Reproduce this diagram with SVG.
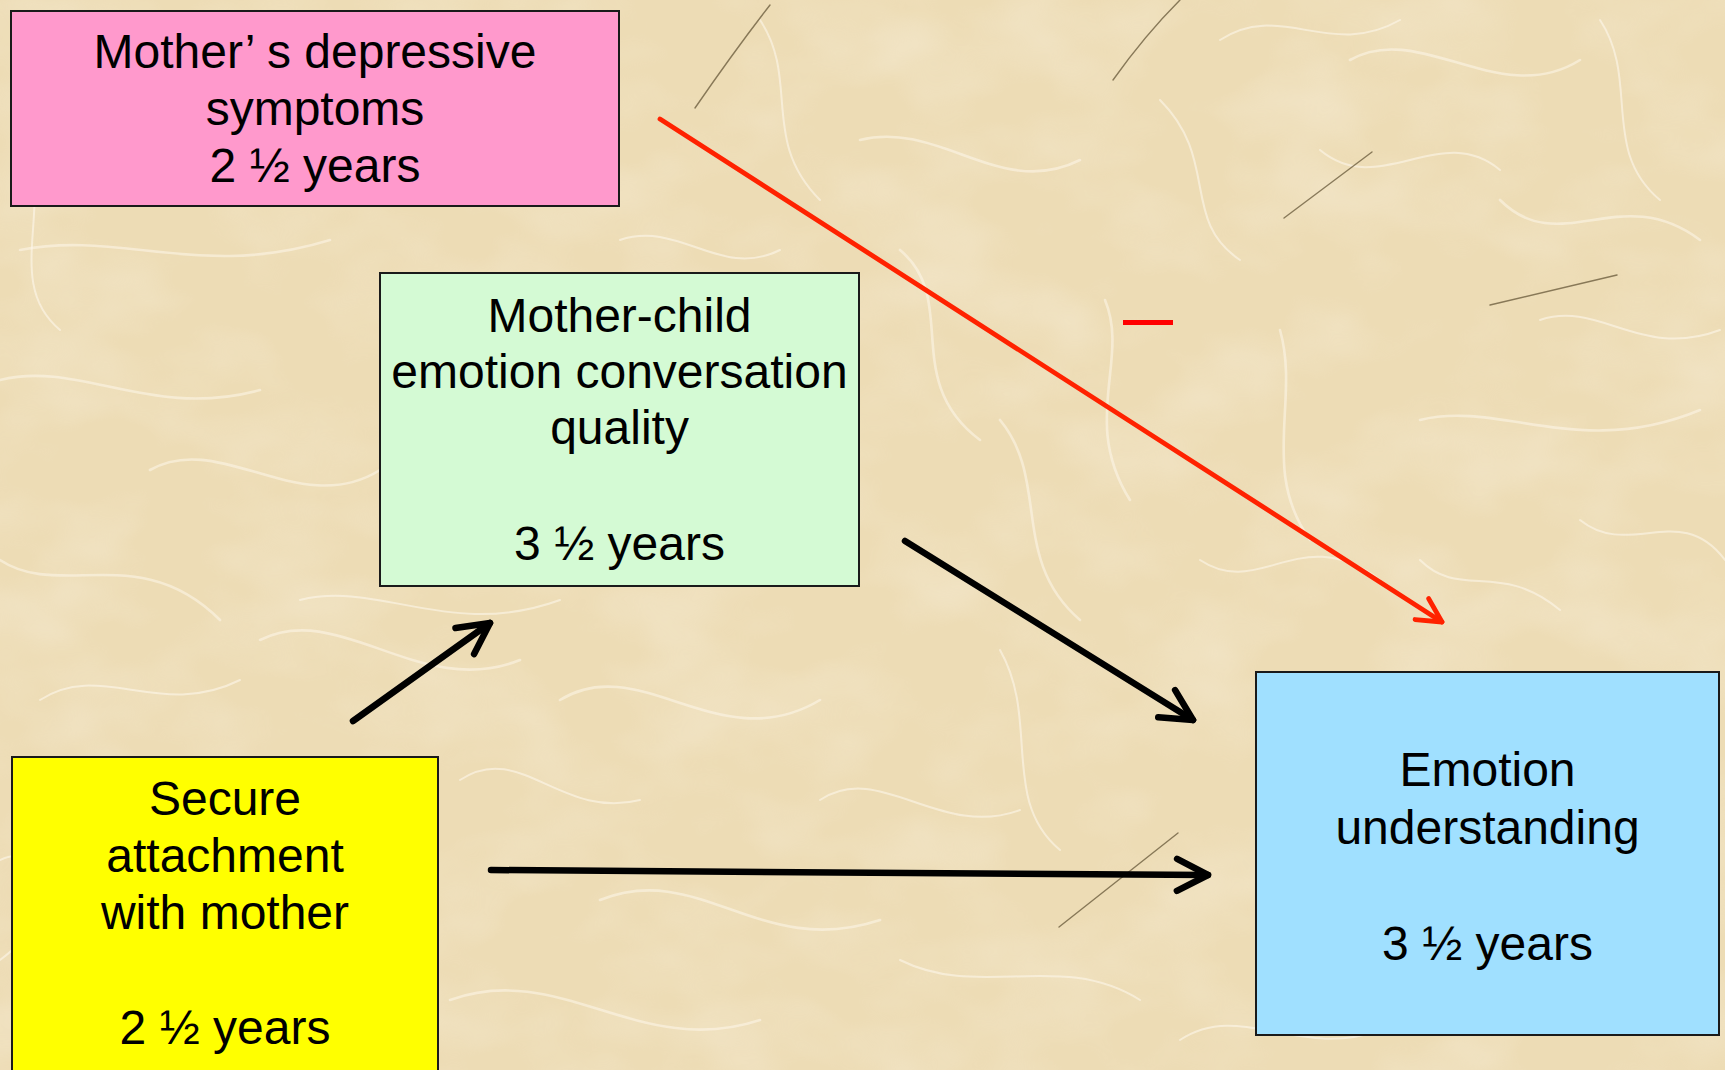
<svg xmlns="http://www.w3.org/2000/svg" width="1725" height="1070" viewBox="0 0 1725 1070">
<defs>
<style>
.box{stroke:#1a1a1a;stroke-width:2}
.lbl{font-family:"Liberation Sans",Arial,sans-serif;font-size:48px;fill:#000;text-anchor:middle}
.fib{fill:none;stroke:#fffaf0;stroke-linecap:round}
.hair{fill:none;stroke:#6e5f40;stroke-width:1.4;stroke-linecap:round;opacity:0.8}
.conn{fill:none;stroke-linecap:round}
.blk{stroke:#000;stroke-width:6.5}
.red{stroke:#ff2200;stroke-width:4.8}
</style>
<filter id="mottle" x="0" y="0" width="100%" height="100%">
<feTurbulence type="fractalNoise" baseFrequency="0.008 0.012" numOctaves="3" seed="7"/>
<feColorMatrix type="matrix" values="0 0 0 0 1  0 0 0 0 0.98  0 0 0 0 0.94  1.2 0 0 0 -0.5"/>
</filter>
<marker id="ahB" markerUnits="userSpaceOnUse" markerWidth="80" markerHeight="80" viewBox="-40 -40 80 80" refX="0" refY="0" orient="auto" overflow="visible">
<path d="M-31,-16 L0,0 L-31,16" fill="none" stroke="#000" stroke-width="6.5" stroke-linecap="round" stroke-linejoin="round"/>
</marker>
<marker id="ahR" markerUnits="userSpaceOnUse" markerWidth="80" markerHeight="80" viewBox="-40 -40 80 80" refX="0" refY="0" orient="auto" overflow="visible">
<path d="M-24,-12.5 L0,0 L-24,12.5" fill="none" stroke="#ff2200" stroke-width="4.8" stroke-linecap="round" stroke-linejoin="round"/>
</marker>
</defs>

<g id="background">
<rect x="0" y="0" width="1725" height="1070" fill="#eddcb5"/>
<rect x="0" y="0" width="1725" height="1070" filter="url(#mottle)" opacity="0.4"/>
<g class="fib" stroke-width="2.6" opacity="0.5">
<path d="M0,380 C80,360 150,420 260,390"/>
<path d="M20,250 C120,230 200,280 330,240"/>
<path d="M150,470 C220,430 300,520 380,470"/>
<path d="M0,560 C60,600 140,540 220,620"/>
<path d="M260,640 C340,600 420,700 520,660"/>
<path d="M560,700 C640,650 720,760 820,700"/>
<path d="M600,900 C700,860 760,960 880,920"/>
<path d="M450,1000 C560,960 640,1060 760,1020"/>
<path d="M900,250 C960,300 900,380 980,440"/>
<path d="M860,140 C940,120 1000,200 1080,160"/>
<path d="M1000,420 C1050,480 1010,560 1080,620"/>
<path d="M1105,300 C1130,360 1080,420 1130,500"/>
<path d="M1280,330 C1300,400 1260,470 1310,540"/>
<path d="M1350,60 C1420,20 1500,110 1580,60"/>
<path d="M1420,420 C1500,400 1580,460 1700,410"/>
<path d="M1500,200 C1560,260 1620,180 1700,240"/>
</g>
<g class="fib" stroke-width="2" opacity="0.55">
<path d="M1580,520 C1630,560 1680,500 1725,560"/>
<path d="M1000,650 C1040,720 1000,800 1060,850"/>
<path d="M900,960 C980,1000 1060,950 1140,1000"/>
<path d="M1180,1040 C1240,1000 1300,1060 1380,1030"/>
<path d="M660,560 C720,520 760,600 840,570"/>
<path d="M40,700 C100,660 160,720 240,680"/>
<path d="M20,120 C60,200 0,280 60,330"/>
<path d="M620,240 C680,220 720,280 780,250"/>
<path d="M760,20 C800,80 760,140 820,200"/>
<path d="M1160,100 C1220,160 1180,220 1240,260"/>
<path d="M1420,560 C1460,600 1500,560 1560,610"/>
<path d="M460,780 C520,740 560,820 640,800"/>
<path d="M820,800 C880,760 940,840 1020,810"/>
<path d="M1200,560 C1260,600 1300,520 1380,580"/>
<path d="M1600,20 C1640,80 1600,150 1660,200"/>
<path d="M300,600 C380,580 450,640 560,600"/>
<path d="M0,860 C40,840 80,900 0,960"/>
<path d="M1220,40 C1280,0 1330,60 1400,20"/>
<path d="M1320,150 C1380,200 1440,120 1500,170"/>
<path d="M1540,320 C1600,300 1640,360 1720,330"/>
</g>
<path class="hair" d="M695,108 Q735,50 770,5"/>
<path class="hair" d="M1113,80 Q1145,35 1180,0"/>
<path class="hair" d="M1284,218 L1372,152"/>
<path class="hair" d="M1490,305 L1617,275"/>
<path class="hair" d="M1059,927 L1178,833"/>
</g>

<g id="connectors">
<line class="conn red" x1="660" y1="119" x2="1442" y2="622" marker-end="url(#ahR)"/>
<line class="conn blk" x1="353" y1="721" x2="490" y2="623" marker-end="url(#ahB)"/>
<line class="conn blk" x1="905" y1="541" x2="1193" y2="720" marker-end="url(#ahB)"/>
<line class="conn blk" x1="491" y1="870" x2="1208" y2="875" marker-end="url(#ahB)"/>
<text x="1148" y="336" font-family="'Liberation Sans',Arial,sans-serif" font-size="50" font-weight="bold" fill="#ff0000" text-anchor="middle">—</text>
</g>

<g id="node-depressive">
<rect class="box" x="11" y="11" width="608" height="195" fill="#ff99cc"/>
<text class="lbl" x="315" y="68">Mother’ s depressive</text>
<text class="lbl" x="315" y="125">symptoms</text>
<text class="lbl" x="315" y="182">2 ½ years</text>
</g>

<g id="node-conversation">
<rect class="box" x="380" y="273" width="479" height="313" fill="#d4fad4"/>
<text class="lbl" x="619.5" y="332">Mother-child</text>
<text class="lbl" x="619.5" y="388">emotion conversation</text>
<text class="lbl" x="619.5" y="444">quality</text>
<text class="lbl" x="619.5" y="560">3 ½ years</text>
</g>

<g id="node-attachment">
<rect class="box" x="12" y="757" width="426" height="330" fill="#ffff00"/>
<text class="lbl" x="225" y="815">Secure</text>
<text class="lbl" x="225" y="872">attachment</text>
<text class="lbl" x="225" y="929">with mother</text>
<text class="lbl" x="225" y="1044">2 ½ years</text>
</g>

<g id="node-understanding">
<rect class="box" x="1256" y="672" width="463" height="363" fill="#a0e0ff"/>
<text class="lbl" x="1487.5" y="786">Emotion</text>
<text class="lbl" x="1487.5" y="844">understanding</text>
<text class="lbl" x="1487.5" y="960">3 ½ years</text>
</g>
</svg>
